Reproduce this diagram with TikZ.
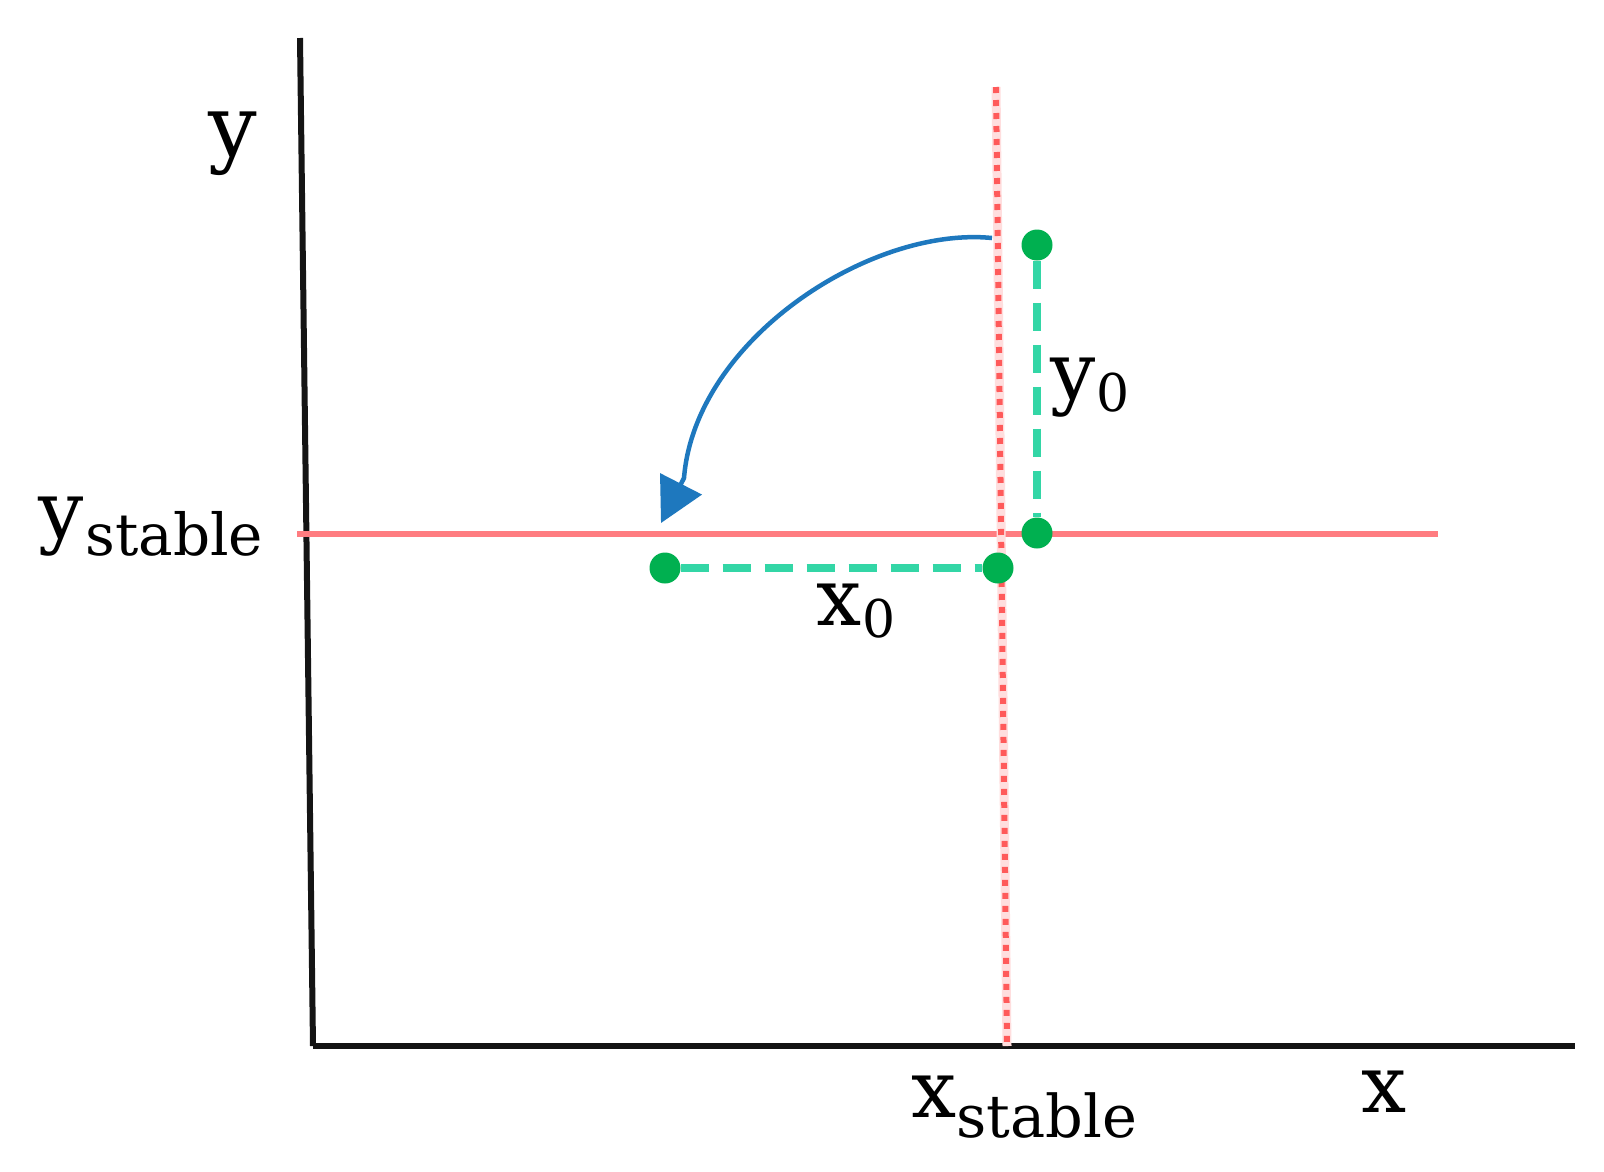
\documentclass[tikz,border=0pt]{standalone}
\usepackage{fontspec}
\newfontfamily\lblfont{DejaVu Serif}
\usetikzlibrary{arrows.meta}
\definecolor{axisblack}{rgb}{0.08,0.08,0.08}
\definecolor{redline}{RGB}{255,124,128}
\definecolor{reddot}{RGB}{255,90,90}
\definecolor{redpale}{RGB}{255,222,222}
\definecolor{gdotcol}{RGB}{0,176,80}
\definecolor{gdashcol}{RGB}{51,214,166}
\definecolor{bluearc}{RGB}{30,120,190}
\tikzset{
  axisline/.style={draw=axisblack, line width=6pt},
  stableline/.style={draw=redline, line width=6pt},
  gdot/.style={circle, fill=gdotcol, inner sep=0pt, minimum size=31pt},
  gdash/.style={draw=gdashcol, line width=8pt, dash pattern=on 28pt off 14pt},
  lbl/.style={inner sep=0pt, anchor=base west, font=\lblfont\fontsize{80}{90}\selectfont},
  arcarrow/.style={draw=bluearc, line width=4.5pt, -{Triangle[length=44pt,width=46pt]}}
}
\begin{document}
\begin{tikzpicture}[x=1pt,y=-1pt]
\path[use as bounding box, fill=white] (0,0) rectangle (1604,1171);
% axes
\coordinate (ytop) at (300,38);
\coordinate (origin) at (313,1046);
\coordinate (xend) at (1575,1046);
\draw[axisline] (ytop) -- (origin);
\draw[axisline] (origin) -- (xend);
% stable lines
\coordinate (hl) at (297,534);
\coordinate (hr) at (1438,534);
\draw[stableline] (hl) -- (hr);
\coordinate (vt) at (996,87);
\coordinate (vb) at (1007,1046);
\draw[draw=redpale, line width=9pt] (vt) -- (vb);
\draw[draw=reddot, line width=6pt, dash pattern=on 6pt off 7pt] (vt) -- (vb);
% green points
\node[gdot] (p1) at (1037,245) {};
\node[gdot] (p2) at (1037,533) {};
\node[gdot] (p3) at (998,568) {};
\node[gdot] (p4) at (665,568) {};
\draw[gdash] (p1) -- (p2);
\draw[gdash] (p4) -- (p3);
% blue arc arrow
\coordinate (as) at (992,238);
\coordinate (am) at (684,478);
\coordinate (ae) at (661,523);
\draw[arcarrow] (as) .. controls (870,226) and (695,340) .. (am) -- (ae);
% labels
\node[lbl, font=\lblfont\fontsize{86}{96}\selectfont] (ylab) at (208,156) {y};
\node[lbl, font=\lblfont\fontsize{80}{90}\selectfont] (xlab) at (1361,1112) {x};
\node[lbl] (ystab) at (38,538) {y\kern2pt\raisebox{-17pt}{\fontsize{58}{62}\selectfont stable}};
\node[lbl] (xstab) at (911,1117) {x\raisebox{-20pt}{\fontsize{59}{62}\selectfont stable}};
\node[lbl] (x0) at (816,625) {x\kern1pt\raisebox{-12pt}{\fontsize{52}{58}\selectfont 0}};
\node[lbl] (y0) at (1050,399) {y\kern1pt\raisebox{-12pt}{\fontsize{52}{58}\selectfont 0}};
\end{tikzpicture}
\end{document}
